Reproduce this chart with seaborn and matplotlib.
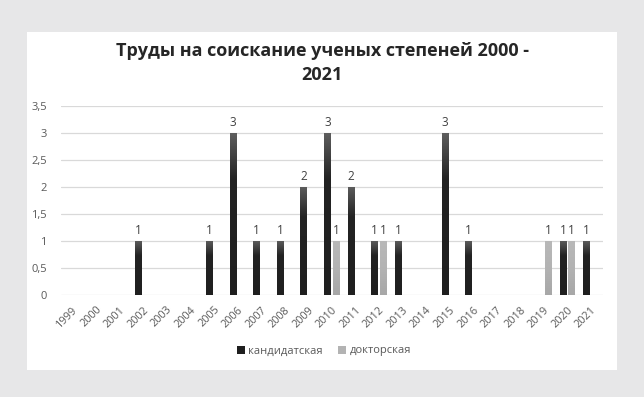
import numpy as np
import pandas as pd
import seaborn as sns
import matplotlib.pyplot as plt
from matplotlib.patches import Rectangle, Patch
from matplotlib.colors import LinearSegmentedColormap

years = [str(y) for y in range(1999, 2022)]
kandidat = [0, 0, 0, 1, 0, 0, 1, 3, 1, 1, 2, 3, 2, 1, 1, 0, 3, 1, 0, 0, 0, 1, 1]
doktor = [0, 0, 0, 0, 0, 0, 0, 0, 0, 0, 0, 1, 0, 1, 0, 0, 0, 0, 0, 0, 1, 1, 0]
series_names = ['кандидатская', 'докторская']
title = 'Труды на соискание ученых степеней 2000 -\n2021'

colors = ['#1f1f1f', '#b3b3b3']
text_color = '#595959'


def build_frame():
    rows = []
    for name, vals in zip(series_names, [kandidat, doktor]):
        for y, v in zip(years, vals):
            rows.append({'year': y, 'type': name, 'count': v})
    return pd.DataFrame(rows)


def add_gradients(ax):
    # excel-like vertical gradient on each bar
    cmaps = [
        LinearSegmentedColormap.from_list('k', [(0, '#1f1f1f'), (0.72, '#232323'), (1, '#5e5e5e')]),
        LinearSegmentedColormap.from_list('g', [(0, '#a7a7a7'), (0.5, '#b3b3b3'), (1, '#b8b8b8')]),
    ]
    grad = np.linspace(0, 1, 256).reshape(-1, 1)
    for container, cmap in zip(ax.containers, cmaps):
        for bar in container:
            h = bar.get_height()
            if h == 0:
                continue
            x0, y0, w = bar.get_x(), bar.get_y(), bar.get_width()
            im = ax.imshow(grad, extent=[x0, x0 + w, y0, y0 + h], aspect='auto',
                           cmap=cmap, origin='lower', zorder=3, interpolation='bilinear')
            im.set_clip_path(bar)


def main():
    df = build_frame()
    sns.set_style('white')
    plt.rcParams['font.family'] = ['Open Sans', 'DejaVu Sans']

    fig = plt.figure(figsize=(6.44, 3.97), dpi=100)
    fig.patch.set_facecolor('#e7e7e8')
    fig.patches.append(Rectangle((27 / 644, 1 - 370 / 397), 590 / 644, 338 / 397,
                                 transform=fig.transFigure, facecolor='white',
                                 edgecolor='none', zorder=-5))

    ax = fig.add_axes([60.7 / 644, 1 - 294.7 / 397, 542 / 644, 189 / 397])
    ax.set_facecolor('none')
    sns.barplot(data=df, x='year', y='count', hue='type', hue_order=series_names,
                palette=colors, width=0.74, gap=0.23, ax=ax, legend=False,
                linewidth=0, zorder=2)
    add_gradients(ax)

    for container in ax.containers:
        labels = [f'{int(b.get_height())}' if b.get_height() > 0 else '' for b in container]
        ax.bar_label(container, labels=labels, padding=3, fontsize=8.5, color='#404040')

    ax.set_xlim(-0.5, len(years) - 0.5)
    ax.set_ylim(0, 3.5)
    ticks = np.arange(0, 3.51, 0.5)
    ax.set_yticks(ticks)
    ax.set_yticklabels([f'{t:g}'.replace('.', ',') for t in ticks])
    ax.yaxis.grid(True, color='#d9d9d9', linewidth=0.9, zorder=0)
    ax.set_axisbelow(True)
    for s in ax.spines.values():
        s.set_visible(False)
    ax.tick_params(axis='y', length=0, pad=10, labelsize=8, labelcolor=text_color)
    ax.tick_params(axis='x', length=0, pad=7, labelsize=7.8, labelcolor=text_color)
    plt.setp(ax.get_xticklabels(), rotation=45, ha='right', rotation_mode='anchor')
    ax.set_xlabel('')
    ax.set_ylabel('')

    fig.text(0.5, 1 - 63 / 397, title, ha='center', va='center', fontsize=13,
             fontweight='bold', color='#262626', linespacing=1.4)

    handles = [Patch(facecolor=c, edgecolor='none') for c in colors]
    fig.legend(handles, series_names, loc='center', bbox_to_anchor=(324 / 644, 1 - 351 / 397),
               ncol=2, frameon=False, fontsize=8, labelcolor=text_color,
               handlelength=0.7, handleheight=0.7, handletextpad=0.3, columnspacing=1.4)

    fig.savefig('out.png', dpi=100, facecolor=fig.get_facecolor())
    plt.close('all')


if __name__ == '__main__':
    main()
